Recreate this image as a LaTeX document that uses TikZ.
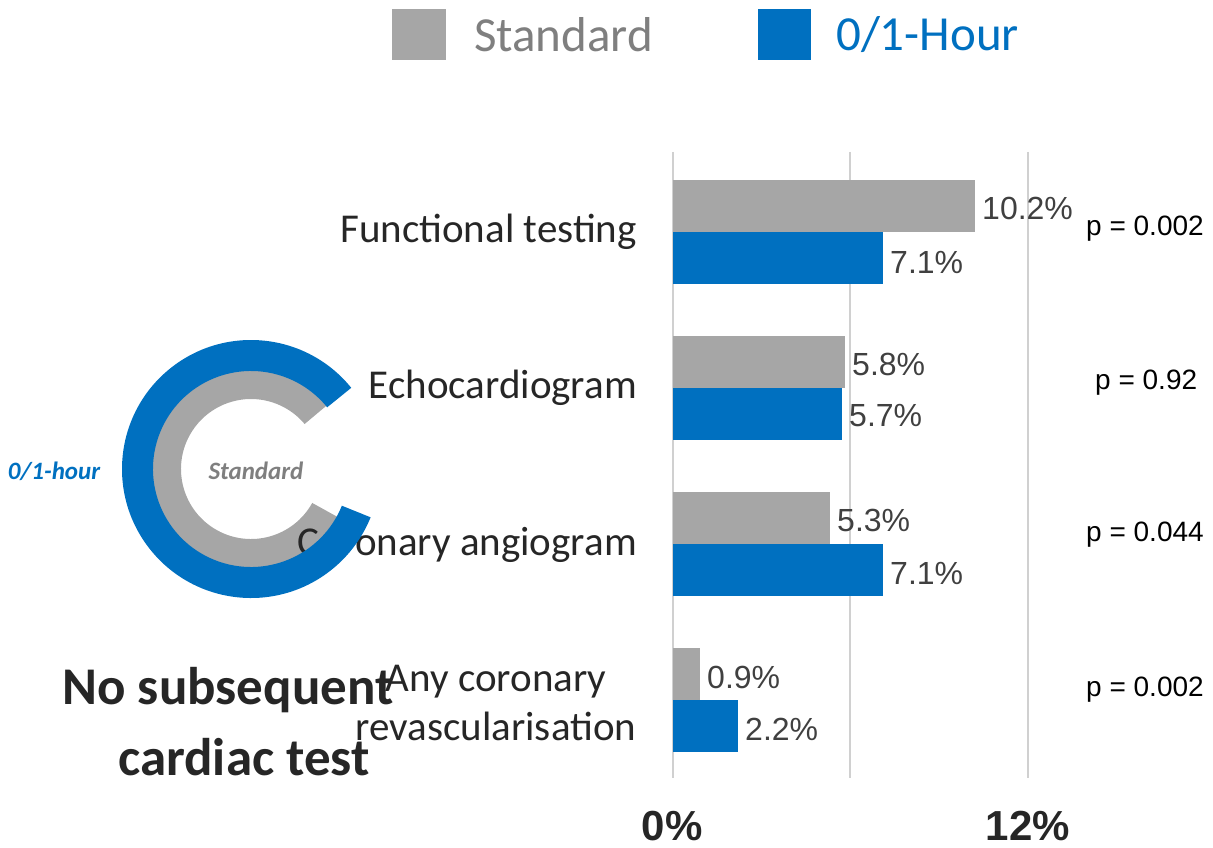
\documentclass[tikz,border=0pt]{standalone}
\usepackage{fontspec}
\usetikzlibrary{calc}
\setmainfont{Carlito}
\newfontfamily\arialf{Liberation Sans}
\definecolor{stdgray}{HTML}{A6A6A6}
\definecolor{hrblue}{HTML}{0070C0}
\definecolor{txtdark}{HTML}{262626}
\definecolor{valtxt}{HTML}{404040}
\definecolor{gridc}{HTML}{D0D0D0}
\definecolor{stdtxt}{HTML}{7F7F7F}
\begin{document}
\begin{tikzpicture}[x=1pt,y=1pt,
  cat/.style={inner sep=0pt, text=txtdark, font=\fontsize{41}{49}\selectfont},
  val/.style={inner sep=0pt, anchor=west, text=valtxt, font=\arialf\fontsize{32}{38}\selectfont},
  pval/.style={inner sep=0pt, anchor=west, text=black, font=\arialf\fontsize{28}{34}\selectfont},
  axlab/.style={inner sep=0pt, text=txtdark, font=\arialf\bfseries\fontsize{42}{50}\selectfont},
  gridline/.style={draw=gridc, line width=2pt},
  legtxt/.style={inner sep=0pt, anchor=west, font=\fontsize{49}{56}\selectfont},
  bigtxt/.style={inner sep=0pt, text=txtdark, font=\bfseries\fontsize{53}{64}\selectfont},
  donutlab/.style={inner sep=0pt, font=\bfseries\itshape\fontsize{25}{30}\selectfont}]
\useasboundingbox (0,0) rectangle (1213,-848);

% grid
\foreach \gx/\gn in {673/g0,850/g6,1028/g12}{
  \coordinate (\gn t) at (\gx,-152);
  \coordinate (\gn b) at (\gx,-778);
  \draw[gridline] (\gn t) -- (\gn b);
}

% bars (x = 673 + 29.58*value)
\fill[stdgray] (673,-180) rectangle (975,-232);
\fill[hrblue]  (673,-232) rectangle (883,-284);
\fill[stdgray] (673,-336) rectangle (845,-388);
\fill[hrblue]  (673,-388) rectangle (842,-440);
\fill[stdgray] (673,-492) rectangle (830,-544);
\fill[hrblue]  (673,-544) rectangle (883,-596);
\fill[stdgray] (673,-648) rectangle (700,-700);
\fill[hrblue]  (673,-700) rectangle (738,-752);

% values
\node[val] (v1s) at (982,-208) {10.2\%};
\node[val] (v1h) at (890,-262) {7.1\%};
\node[val] (v2s) at (852,-364) {5.8\%};
\node[val] (v2h) at (849,-416) {5.7\%};
\node[val] (v3s) at (837,-520) {5.3\%};
\node[val] (v3h) at (890,-573) {7.1\%};
\node[val] (v4s) at (707,-677) {0.9\%};
\node[val] (v4h) at (745,-729) {2.2\%};

% p values
\node[pval] (p1) at (1086,-229) {p = 0.002};
\node[pval] (p2) at (1095,-383) {p = 0.92};
\node[pval] (p3) at (1086,-535) {p = 0.044};
\node[pval] (p4) at (1086,-690) {p = 0.002};

% axis labels
\node[axlab] (a0) at (672,-826) {0\%};
\node[axlab] (a12) at (1028,-826) {12\%};

% legend
\fill[stdgray] (392,-9) rectangle (446,-60);
\node[legtxt, text=stdtxt] (ls) at (474,-35) {Standard};
\fill[hrblue] (758,-9) rectangle (811,-60);
\node[legtxt, text=hrblue] (lh) at (836,-35) {0/1-Hour};

% donut, inner (standard) ring
\coordinate (dc) at (251,-469);
\fill[stdgray] ($(dc)+(40:99)$) arc[start angle=40, end angle=331, radius=99]
  -- ($(dc)+(331:70)$) arc[start angle=331, end angle=40, radius=70] -- cycle;

% categories
\node[cat, anchor=east] (c1) at (637,-232) {Functional testing};
\node[cat, anchor=east] (c2) at (637,-388) {Echocardiogram};
\node[cat, anchor=east] (c3) at (637,-545) {Coronary angiogram};
\node[cat, align=center] (c4) at (496,-703) {Any coronary\\revascularisation};

% donut, outer (0/1-hour) ring
\fill[hrblue] ($(dc)+(39:129)$) arc[start angle=39, end angle=338, radius=129]
  -- ($(dc)+(338:98)$) arc[start angle=338, end angle=39, radius=98] -- cycle;
\node[donutlab, text=hrblue] (d1) at (54,-471) {0/1-hour};
\node[donutlab, text=stdtxt] (d2) at (256,-471) {Standard};

% big text
\node[bigtxt] (big1) at (228,-690) {No subsequent};
\node[bigtxt] (big2) at (244,-757) {cardiac test};
\end{tikzpicture}
\end{document}
